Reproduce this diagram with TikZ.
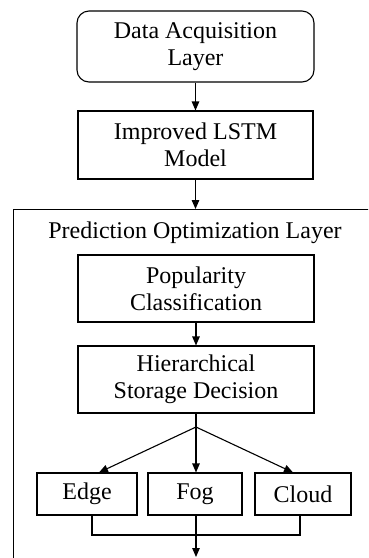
\documentclass[tikz,border=0pt]{standalone}
\usepackage{fontspec}
\setmainfont{Liberation Serif}
\usetikzlibrary{arrows.meta,calc}
\begin{document}
\begin{tikzpicture}[x=1pt,y=-1pt,
  box/.style={draw,line width=1.1pt,align=center,inner sep=0pt,font=\fontsize{24}{27}\selectfont},
  arr/.style={line width=1.1pt,-{Triangle[length=9pt,width=7.5pt]}},
  ln/.style={line width=1.1pt}]
\useasboundingbox (0,0) rectangle (368,558);
\clip (0,0) rectangle (368,558);
\node[box,rounded corners=12pt,minimum width=237pt,minimum height=71pt] (daq) at (195.5,46.5) {Data Acquisition\\Layer};
\node[box,minimum width=235pt,minimum height=68pt] (lstm) at (195.5,145) {Improved LSTM\\Model};
\node[draw,line width=1.1pt,inner sep=0pt,minimum width=387pt,minimum height=391pt,anchor=north west] (outer) at (13,209) {};
\node[font=\fontsize{24}{27}\selectfont,anchor=base,inner sep=0pt] (title) at (195,238) {Prediction Optimization Layer};
\node[box,minimum width=236pt,minimum height=67pt] (pop) at (196,288.5) {Popularity\\Classification};
\node[box,minimum width=236pt,minimum height=67pt] (hsd) at (196,379.5) {Hierarchical\\Storage Decision};
\coordinate (br) at (196,427);
\node[box,minimum width=100pt,minimum height=42pt] (edge) at (87,494) {Edge};
\node[box,minimum width=94pt,minimum height=42pt] (fog) at (195,494) {Fog};
\node[box,minimum width=96pt,minimum height=42pt] (cloud) at (303,494) {Cloud};
\coordinate (join) at (196,535);
\coordinate (out) at (196,557);
\draw[arr] (daq.south) -- (lstm.north);
\draw[arr] (lstm.south) -- (lstm.south |- outer.north);
\draw[arr] (pop.south) -- (hsd.north);
\draw[ln] (hsd.south) -- (br);
\draw[arr] (br) -- ($(edge.north)+(12,0)$);
\draw[arr] (br) -- (br |- fog.north);
\draw[arr] (br) -- ($(cloud.north)+(-10,0)$);
\draw[ln] ($(edge.south)+(5,0)$) |- (join) -| ($(cloud.south)+(-3,0)$);
\draw[arr] (br |- fog.south) -- (out);
\end{tikzpicture}
\end{document}
